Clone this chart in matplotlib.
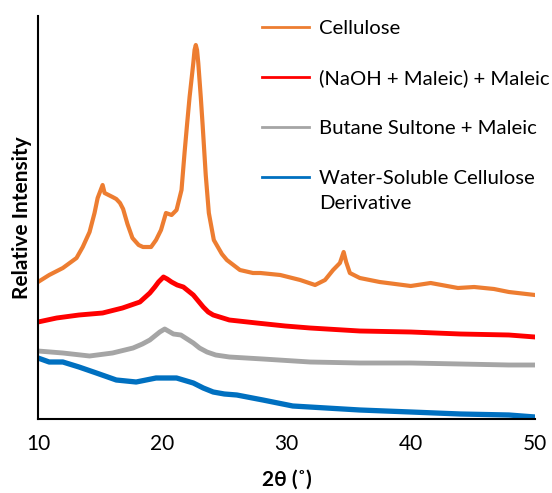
import matplotlib
matplotlib.use('Agg')
import matplotlib.pyplot as plt
from matplotlib.legend_handler import HandlerLine2D

# 2-theta positions (deg) and relative intensity
cell_x = [10.0, 10.9, 12.0, 13.1, 13.6, 14.15, 14.55, 14.8, 15.2, 15.36, 16.0, 16.3,
          16.6, 16.85, 17.2, 17.6, 18.1, 18.45, 19.1, 19.5, 19.9, 20.3, 20.75, 21.15,
          21.55, 21.8, 22.0, 22.2, 22.5, 22.6, 22.7, 22.8, 22.9, 23.1, 23.25, 23.5,
          23.75, 24.15, 24.8, 25.2, 26.25, 27.3, 27.9, 29.5, 31.1, 32.3, 33.1, 33.75,
          34.3, 34.6, 34.8, 35.1, 35.9, 37.5, 40.0, 41.6, 43.8, 45.1, 46.7, 47.9, 50.0]
cell_y = [137, 144, 151, 161, 172, 187, 206, 221, 234, 226, 222, 220,
          216, 210, 195, 181, 174, 172, 172, 179, 189, 206, 204, 209,
          229, 267, 295, 322, 356, 369, 374, 369, 356, 322, 294, 244,
          206, 179, 165, 159, 149, 146, 146, 144, 139, 134, 139, 149,
          156, 167, 157, 146, 141, 137, 133, 136, 131, 132, 130, 127, 124]

naoh_x = [10, 11.5, 13.3, 15.2, 16.8, 17.5, 18.2, 19.0, 19.4, 19.7, 20.1, 20.4,
          20.75, 21.2, 21.7, 22.5, 22.9, 23.3, 23.7, 24.1, 25.4, 27.6, 29.9, 31.9,
          35.9, 40, 44, 47.9, 50]
naoh_y = [97, 101, 104, 106, 111, 114, 117, 126, 132, 137, 142, 140,
          137, 134, 132, 124, 118, 112, 107, 104, 99, 96, 93, 91,
          88, 87, 85, 84, 82]

bs_x = [10, 12, 14.15, 16, 17.65, 18.4, 19, 19.4, 19.8, 20.2, 20.9, 21.5,
        22.0, 22.5, 23.0, 23.6, 24.3, 25.4, 28.1, 31.9, 35.9, 40, 44, 47.9, 50]
bs_y = [68, 66, 63, 66, 71, 75, 79, 83, 87, 90, 85, 84,
        80, 76, 71, 67, 64, 62, 60, 57, 56, 56, 55, 54, 54]

ws_x = [10, 10.9, 12, 13.3, 14.7, 16.3, 17.9, 19.5, 21.15, 22.5, 23.3, 24.1,
        25, 26, 28.1, 30.5, 33.2, 35.9, 40, 44, 47.9, 50]
ws_y = [61, 57, 57, 52, 46, 39, 37, 41, 41, 36, 31, 27,
        25, 24, 19, 13, 11, 9, 7, 5, 4, 2]

labels = ['Cellulose', '(NaOH + Maleic) + Maleic', 'Butane Sultone + Maleic',
          'Water-Soluble Cellulose\nDerivative']
colors = ['#ED7D31', '#FF0000', '#A5A5A5', '#0070C0']
xticks = [10, 20, 30, 40, 50]


class FirstLineHandler(HandlerLine2D):
    # put the legend line next to the first line of a two-line label
    def create_artists(self, legend, orig_handle, xdescent, ydescent,
                       width, height, fontsize, trans):
        arts = super().create_artists(legend, orig_handle, xdescent, ydescent,
                                      width, height, fontsize, trans)
        for a in arts:
            a.set_ydata([v + 0.68 * fontsize for v in a.get_ydata()])
        return arts


plt.rcParams['font.family'] = ['Lato', 'DejaVu Sans']

fig = plt.figure(figsize=(5.52, 4.93), dpi=100)
ax = fig.add_axes([38 / 552, 1 - 419 / 493, 497 / 552, 403 / 493])

ax.plot(cell_x, cell_y, color=colors[0], lw=3.0, label=labels[0])
ax.plot(naoh_x, naoh_y, color=colors[1], lw=3.5, label=labels[1])
ax.plot(bs_x, bs_y, color=colors[2], lw=3.5, label=labels[2])
ws_line, = ax.plot(ws_x, ws_y, color=colors[3], lw=3.8, label=labels[3])

ax.set_xlim(10, 50)
ax.set_ylim(0, 403)
ax.set_xticks(xticks)
ax.set_yticks([])
ax.tick_params(axis='x', length=0, pad=11, labelsize=15)
for s in ['top', 'right']:
    ax.spines[s].set_visible(False)
for s in ['left', 'bottom']:
    ax.spines[s].set_linewidth(1.5)
    ax.spines[s].set_color('black')

ax.set_xlabel('2θ (˚)', fontsize=15, fontweight='bold', labelpad=11)
ax.set_ylabel('Relative Intensity', fontsize=15, fontweight='bold', labelpad=4)

leg = ax.legend(loc='upper left', bbox_to_anchor=(262 / 552, 1 - 20 / 493),
                bbox_transform=fig.transFigure, frameon=False, fontsize=14.6,
                handlelength=2.3, handletextpad=0.5, labelspacing=1.6,
                borderaxespad=0, borderpad=0,
                handler_map={ws_line: FirstLineHandler()})
for h in leg.legend_handles:
    h.set_linewidth(2)
for t in leg.get_texts():
    t.set_linespacing(1.6)

fig.savefig('out.png', dpi=100)
